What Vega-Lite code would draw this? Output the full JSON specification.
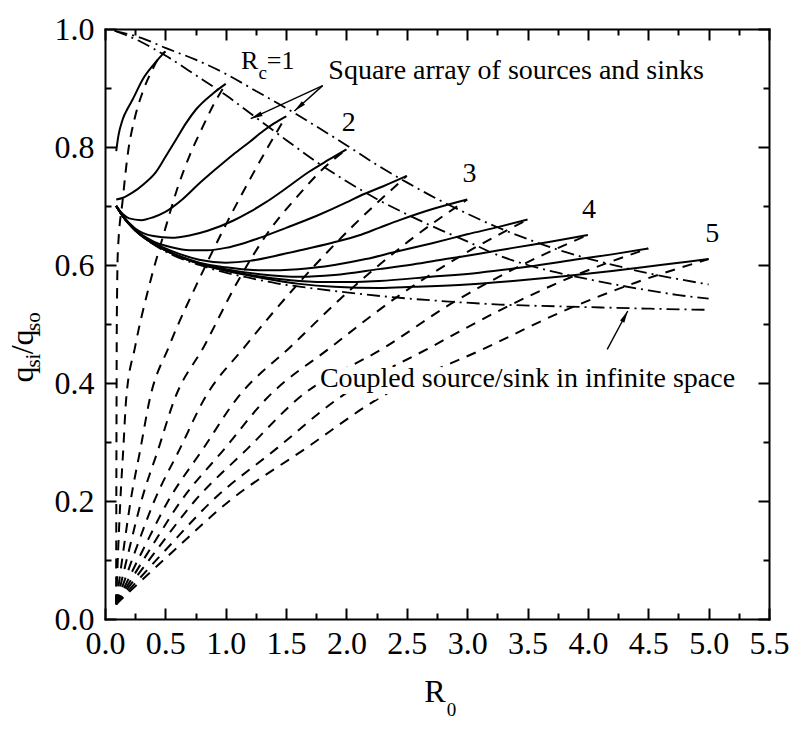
{
  "$schema": "https://vega.github.io/schema/vega-lite/v6.json",
  "width": 664,
  "height": 590,
  "autosize": {"type": "none"},
  "padding": {"left": 105, "top": 29, "right": 26, "bottom": 112},
  "background": "white",
  "config": {
    "font": "Liberation Serif",
    "view": {"stroke": null},
    "axis": {
      "grid": false,
      "domainColor": "black",
      "domainWidth": 2,
      "domainCap": "square",
      "tickColor": "black",
      "tickWidth": 2,
      "labelFont": "Liberation Serif",
      "labelFontSize": 32,
      "labelColor": "black"
    }
  },
  "resolve": {"axis": {"x": "independent", "y": "independent"}},
  "datasets": {
    "curves": [
      {"curve": "s0.5", "kind": "solid", "R0": 0.093, "q": 0.793},
      {"curve": "s0.5", "kind": "solid", "R0": 0.11, "q": 0.818},
      {"curve": "s0.5", "kind": "solid", "R0": 0.147, "q": 0.847},
      {"curve": "s0.5", "kind": "solid", "R0": 0.19, "q": 0.866},
      {"curve": "s0.5", "kind": "solid", "R0": 0.23, "q": 0.881},
      {"curve": "s0.5", "kind": "solid", "R0": 0.313, "q": 0.915},
      {"curve": "s0.5", "kind": "solid", "R0": 0.396, "q": 0.938},
      {"curve": "s0.5", "kind": "solid", "R0": 0.45, "q": 0.951},
      {"curve": "s0.5", "kind": "solid", "R0": 0.5, "q": 0.962},

      {"curve": "s1", "kind": "solid", "R0": 0.093, "q": 0.711},
      {"curve": "s1", "kind": "solid", "R0": 0.15, "q": 0.714},
      {"curve": "s1", "kind": "solid", "R0": 0.23, "q": 0.723},
      {"curve": "s1", "kind": "solid", "R0": 0.32, "q": 0.737},
      {"curve": "s1", "kind": "solid", "R0": 0.42, "q": 0.757},
      {"curve": "s1", "kind": "solid", "R0": 0.5, "q": 0.783},
      {"curve": "s1", "kind": "solid", "R0": 0.59, "q": 0.813},
      {"curve": "s1", "kind": "solid", "R0": 0.67, "q": 0.84},
      {"curve": "s1", "kind": "solid", "R0": 0.755, "q": 0.864},
      {"curve": "s1", "kind": "solid", "R0": 0.89, "q": 0.89},
      {"curve": "s1", "kind": "solid", "R0": 1.0, "q": 0.907},

      {"curve": "s1.5", "kind": "solid", "R0": 0.093, "q": 0.7},
      {"curve": "s1.5", "kind": "solid", "R0": 0.15, "q": 0.686},
      {"curve": "s1.5", "kind": "solid", "R0": 0.2, "q": 0.679},
      {"curve": "s1.5", "kind": "solid", "R0": 0.3, "q": 0.676},
      {"curve": "s1.5", "kind": "solid", "R0": 0.4, "q": 0.681},
      {"curve": "s1.5", "kind": "solid", "R0": 0.5, "q": 0.69},
      {"curve": "s1.5", "kind": "solid", "R0": 0.64, "q": 0.711},
      {"curve": "s1.5", "kind": "solid", "R0": 0.78, "q": 0.738},
      {"curve": "s1.5", "kind": "solid", "R0": 0.92, "q": 0.763},
      {"curve": "s1.5", "kind": "solid", "R0": 1.06, "q": 0.787},
      {"curve": "s1.5", "kind": "solid", "R0": 1.2, "q": 0.809},
      {"curve": "s1.5", "kind": "solid", "R0": 1.31, "q": 0.827},
      {"curve": "s1.5", "kind": "solid", "R0": 1.4, "q": 0.84},
      {"curve": "s1.5", "kind": "solid", "R0": 1.5, "q": 0.852},

      {"curve": "s2", "kind": "solid", "R0": 0.093, "q": 0.7},
      {"curve": "s2", "kind": "solid", "R0": 0.15, "q": 0.683},
      {"curve": "s2", "kind": "solid", "R0": 0.25, "q": 0.662},
      {"curve": "s2", "kind": "solid", "R0": 0.4, "q": 0.649},
      {"curve": "s2", "kind": "solid", "R0": 0.55, "q": 0.646},
      {"curve": "s2", "kind": "solid", "R0": 0.7, "q": 0.65},
      {"curve": "s2", "kind": "solid", "R0": 0.85, "q": 0.658},
      {"curve": "s2", "kind": "solid", "R0": 1.06, "q": 0.675},
      {"curve": "s2", "kind": "solid", "R0": 1.2, "q": 0.69},
      {"curve": "s2", "kind": "solid", "R0": 1.33, "q": 0.706},
      {"curve": "s2", "kind": "solid", "R0": 1.5, "q": 0.73},
      {"curve": "s2", "kind": "solid", "R0": 1.69, "q": 0.758},
      {"curve": "s2", "kind": "solid", "R0": 1.85, "q": 0.778},
      {"curve": "s2", "kind": "solid", "R0": 2.0, "q": 0.796},

      {"curve": "s2.5", "kind": "solid", "R0": 0.093, "q": 0.7},
      {"curve": "s2.5", "kind": "solid", "R0": 0.15, "q": 0.682},
      {"curve": "s2.5", "kind": "solid", "R0": 0.25, "q": 0.66},
      {"curve": "s2.5", "kind": "solid", "R0": 0.4, "q": 0.64},
      {"curve": "s2.5", "kind": "solid", "R0": 0.55, "q": 0.63},
      {"curve": "s2.5", "kind": "solid", "R0": 0.7, "q": 0.625},
      {"curve": "s2.5", "kind": "solid", "R0": 0.85, "q": 0.625},
      {"curve": "s2.5", "kind": "solid", "R0": 1.0, "q": 0.629},
      {"curve": "s2.5", "kind": "solid", "R0": 1.15, "q": 0.637},
      {"curve": "s2.5", "kind": "solid", "R0": 1.28, "q": 0.646},
      {"curve": "s2.5", "kind": "solid", "R0": 1.5, "q": 0.663},
      {"curve": "s2.5", "kind": "solid", "R0": 1.75, "q": 0.683},
      {"curve": "s2.5", "kind": "solid", "R0": 2.0, "q": 0.706},
      {"curve": "s2.5", "kind": "solid", "R0": 2.11, "q": 0.717},
      {"curve": "s2.5", "kind": "solid", "R0": 2.3, "q": 0.733},
      {"curve": "s2.5", "kind": "solid", "R0": 2.5, "q": 0.751},

      {"curve": "s3", "kind": "solid", "R0": 0.093, "q": 0.7},
      {"curve": "s3", "kind": "solid", "R0": 0.15, "q": 0.682},
      {"curve": "s3", "kind": "solid", "R0": 0.25, "q": 0.659},
      {"curve": "s3", "kind": "solid", "R0": 0.4, "q": 0.638},
      {"curve": "s3", "kind": "solid", "R0": 0.55, "q": 0.624},
      {"curve": "s3", "kind": "solid", "R0": 0.78, "q": 0.609},
      {"curve": "s3", "kind": "solid", "R0": 1.0, "q": 0.604},
      {"curve": "s3", "kind": "solid", "R0": 1.2, "q": 0.607},
      {"curve": "s3", "kind": "solid", "R0": 1.4, "q": 0.615},
      {"curve": "s3", "kind": "solid", "R0": 1.6, "q": 0.624},
      {"curve": "s3", "kind": "solid", "R0": 1.89, "q": 0.638},
      {"curve": "s3", "kind": "solid", "R0": 2.1, "q": 0.65},
      {"curve": "s3", "kind": "solid", "R0": 2.27, "q": 0.663},
      {"curve": "s3", "kind": "solid", "R0": 2.44, "q": 0.676},
      {"curve": "s3", "kind": "solid", "R0": 2.7, "q": 0.694},
      {"curve": "s3", "kind": "solid", "R0": 3.0, "q": 0.711},

      {"curve": "s3.5", "kind": "solid", "R0": 0.093, "q": 0.7},
      {"curve": "s3.5", "kind": "solid", "R0": 0.15, "q": 0.682},
      {"curve": "s3.5", "kind": "solid", "R0": 0.25, "q": 0.659},
      {"curve": "s3.5", "kind": "solid", "R0": 0.4, "q": 0.637},
      {"curve": "s3.5", "kind": "solid", "R0": 0.55, "q": 0.621},
      {"curve": "s3.5", "kind": "solid", "R0": 0.78, "q": 0.604},
      {"curve": "s3.5", "kind": "solid", "R0": 1.0, "q": 0.596},
      {"curve": "s3.5", "kind": "solid", "R0": 1.3, "q": 0.591},
      {"curve": "s3.5", "kind": "solid", "R0": 1.6, "q": 0.593},
      {"curve": "s3.5", "kind": "solid", "R0": 1.9, "q": 0.6},
      {"curve": "s3.5", "kind": "solid", "R0": 2.16, "q": 0.61},
      {"curve": "s3.5", "kind": "solid", "R0": 2.4, "q": 0.622},
      {"curve": "s3.5", "kind": "solid", "R0": 2.71, "q": 0.637},
      {"curve": "s3.5", "kind": "solid", "R0": 3.0, "q": 0.652},
      {"curve": "s3.5", "kind": "solid", "R0": 3.27, "q": 0.665},
      {"curve": "s3.5", "kind": "solid", "R0": 3.5, "q": 0.677},

      {"curve": "s4", "kind": "solid", "R0": 0.093, "q": 0.7},
      {"curve": "s4", "kind": "solid", "R0": 0.15, "q": 0.682},
      {"curve": "s4", "kind": "solid", "R0": 0.25, "q": 0.659},
      {"curve": "s4", "kind": "solid", "R0": 0.4, "q": 0.636},
      {"curve": "s4", "kind": "solid", "R0": 0.55, "q": 0.62},
      {"curve": "s4", "kind": "solid", "R0": 0.78, "q": 0.603},
      {"curve": "s4", "kind": "solid", "R0": 1.0, "q": 0.593},
      {"curve": "s4", "kind": "solid", "R0": 1.3, "q": 0.584},
      {"curve": "s4", "kind": "solid", "R0": 1.61, "q": 0.58},
      {"curve": "s4", "kind": "solid", "R0": 1.9, "q": 0.583},
      {"curve": "s4", "kind": "solid", "R0": 2.27, "q": 0.593},
      {"curve": "s4", "kind": "solid", "R0": 2.55, "q": 0.601},
      {"curve": "s4", "kind": "solid", "R0": 2.82, "q": 0.61},
      {"curve": "s4", "kind": "solid", "R0": 3.1, "q": 0.619},
      {"curve": "s4", "kind": "solid", "R0": 3.38, "q": 0.629},
      {"curve": "s4", "kind": "solid", "R0": 3.7, "q": 0.64},
      {"curve": "s4", "kind": "solid", "R0": 4.0, "q": 0.651},

      {"curve": "s4.5", "kind": "solid", "R0": 0.093, "q": 0.7},
      {"curve": "s4.5", "kind": "solid", "R0": 0.15, "q": 0.682},
      {"curve": "s4.5", "kind": "solid", "R0": 0.25, "q": 0.659},
      {"curve": "s4.5", "kind": "solid", "R0": 0.4, "q": 0.636},
      {"curve": "s4.5", "kind": "solid", "R0": 0.55, "q": 0.62},
      {"curve": "s4.5", "kind": "solid", "R0": 0.78, "q": 0.602},
      {"curve": "s4.5", "kind": "solid", "R0": 1.0, "q": 0.591},
      {"curve": "s4.5", "kind": "solid", "R0": 1.3, "q": 0.58},
      {"curve": "s4.5", "kind": "solid", "R0": 1.61, "q": 0.573},
      {"curve": "s4.5", "kind": "solid", "R0": 1.9, "q": 0.571},
      {"curve": "s4.5", "kind": "solid", "R0": 2.27, "q": 0.573},
      {"curve": "s4.5", "kind": "solid", "R0": 2.7, "q": 0.58},
      {"curve": "s4.5", "kind": "solid", "R0": 3.1, "q": 0.587},
      {"curve": "s4.5", "kind": "solid", "R0": 3.5, "q": 0.597},
      {"curve": "s4.5", "kind": "solid", "R0": 3.93, "q": 0.61},
      {"curve": "s4.5", "kind": "solid", "R0": 4.2, "q": 0.618},
      {"curve": "s4.5", "kind": "solid", "R0": 4.5, "q": 0.628},

      {"curve": "s5", "kind": "solid", "R0": 0.093, "q": 0.7},
      {"curve": "s5", "kind": "solid", "R0": 0.15, "q": 0.682},
      {"curve": "s5", "kind": "solid", "R0": 0.25, "q": 0.659},
      {"curve": "s5", "kind": "solid", "R0": 0.4, "q": 0.636},
      {"curve": "s5", "kind": "solid", "R0": 0.55, "q": 0.62},
      {"curve": "s5", "kind": "solid", "R0": 0.78, "q": 0.602},
      {"curve": "s5", "kind": "solid", "R0": 1.0, "q": 0.59},
      {"curve": "s5", "kind": "solid", "R0": 1.3, "q": 0.578},
      {"curve": "s5", "kind": "solid", "R0": 1.61, "q": 0.568},
      {"curve": "s5", "kind": "solid", "R0": 1.9, "q": 0.563},
      {"curve": "s5", "kind": "solid", "R0": 2.27, "q": 0.561},
      {"curve": "s5", "kind": "solid", "R0": 2.55, "q": 0.563},
      {"curve": "s5", "kind": "solid", "R0": 3.0, "q": 0.567},
      {"curve": "s5", "kind": "solid", "R0": 3.38, "q": 0.573},
      {"curve": "s5", "kind": "solid", "R0": 3.8, "q": 0.581},
      {"curve": "s5", "kind": "solid", "R0": 4.2, "q": 0.59},
      {"curve": "s5", "kind": "solid", "R0": 4.6, "q": 0.6},
      {"curve": "s5", "kind": "solid", "R0": 5.0, "q": 0.61},

      {"curve": "d0.5", "kind": "dashed", "R0": 0.092, "q": 0.025},
      {"curve": "d0.5", "kind": "dashed", "R0": 0.093, "q": 0.12},
      {"curve": "d0.5", "kind": "dashed", "R0": 0.094, "q": 0.22},
      {"curve": "d0.5", "kind": "dashed", "R0": 0.0955, "q": 0.35},
      {"curve": "d0.5", "kind": "dashed", "R0": 0.097, "q": 0.47},
      {"curve": "d0.5", "kind": "dashed", "R0": 0.1, "q": 0.55},
      {"curve": "d0.5", "kind": "dashed", "R0": 0.106, "q": 0.62},
      {"curve": "d0.5", "kind": "dashed", "R0": 0.147, "q": 0.711},
      {"curve": "d0.5", "kind": "dashed", "R0": 0.19, "q": 0.79},
      {"curve": "d0.5", "kind": "dashed", "R0": 0.244, "q": 0.847},
      {"curve": "d0.5", "kind": "dashed", "R0": 0.31, "q": 0.892},
      {"curve": "d0.5", "kind": "dashed", "R0": 0.38, "q": 0.926},
      {"curve": "d0.5", "kind": "dashed", "R0": 0.45, "q": 0.952},
      {"curve": "d0.5", "kind": "dashed", "R0": 0.5, "q": 0.962},

      {"curve": "d1", "kind": "dashed", "R0": 0.092, "q": 0.025},
      {"curve": "d1", "kind": "dashed", "R0": 0.109, "q": 0.117},
      {"curve": "d1", "kind": "dashed", "R0": 0.127, "q": 0.2},
      {"curve": "d1", "kind": "dashed", "R0": 0.152, "q": 0.29},
      {"curve": "d1", "kind": "dashed", "R0": 0.175, "q": 0.372},
      {"curve": "d1", "kind": "dashed", "R0": 0.25, "q": 0.462},
      {"curve": "d1", "kind": "dashed", "R0": 0.36, "q": 0.56},
      {"curve": "d1", "kind": "dashed", "R0": 0.49, "q": 0.655},
      {"curve": "d1", "kind": "dashed", "R0": 0.6, "q": 0.73},
      {"curve": "d1", "kind": "dashed", "R0": 0.7, "q": 0.785},
      {"curve": "d1", "kind": "dashed", "R0": 0.8, "q": 0.83},
      {"curve": "d1", "kind": "dashed", "R0": 0.9, "q": 0.872},
      {"curve": "d1", "kind": "dashed", "R0": 1.0, "q": 0.907},

      {"curve": "d1.5", "kind": "dashed", "R0": 0.092, "q": 0.025},
      {"curve": "d1.5", "kind": "dashed", "R0": 0.153, "q": 0.117},
      {"curve": "d1.5", "kind": "dashed", "R0": 0.212, "q": 0.2},
      {"curve": "d1.5", "kind": "dashed", "R0": 0.295, "q": 0.29},
      {"curve": "d1.5", "kind": "dashed", "R0": 0.37, "q": 0.372},
      {"curve": "d1.5", "kind": "dashed", "R0": 0.53, "q": 0.462},
      {"curve": "d1.5", "kind": "dashed", "R0": 0.78, "q": 0.576},
      {"curve": "d1.5", "kind": "dashed", "R0": 1.0, "q": 0.668},
      {"curve": "d1.5", "kind": "dashed", "R0": 1.2, "q": 0.745},
      {"curve": "d1.5", "kind": "dashed", "R0": 1.35, "q": 0.8},
      {"curve": "d1.5", "kind": "dashed", "R0": 1.5, "q": 0.852},

      {"curve": "d2", "kind": "dashed", "R0": 0.092, "q": 0.025},
      {"curve": "d2", "kind": "dashed", "R0": 0.199, "q": 0.117},
      {"curve": "d2", "kind": "dashed", "R0": 0.301, "q": 0.2},
      {"curve": "d2", "kind": "dashed", "R0": 0.445, "q": 0.29},
      {"curve": "d2", "kind": "dashed", "R0": 0.575, "q": 0.372},
      {"curve": "d2", "kind": "dashed", "R0": 0.82, "q": 0.462},
      {"curve": "d2", "kind": "dashed", "R0": 1.11, "q": 0.576},
      {"curve": "d2", "kind": "dashed", "R0": 1.35, "q": 0.655},
      {"curve": "d2", "kind": "dashed", "R0": 1.61, "q": 0.72},
      {"curve": "d2", "kind": "dashed", "R0": 1.8, "q": 0.762},
      {"curve": "d2", "kind": "dashed", "R0": 2.0, "q": 0.796},

      {"curve": "d2.5", "kind": "dashed", "R0": 0.092, "q": 0.025},
      {"curve": "d2.5", "kind": "dashed", "R0": 0.254, "q": 0.117},
      {"curve": "d2.5", "kind": "dashed", "R0": 0.408, "q": 0.2},
      {"curve": "d2.5", "kind": "dashed", "R0": 0.624, "q": 0.29},
      {"curve": "d2.5", "kind": "dashed", "R0": 0.82, "q": 0.372},
      {"curve": "d2.5", "kind": "dashed", "R0": 1.16, "q": 0.462},
      {"curve": "d2.5", "kind": "dashed", "R0": 1.607, "q": 0.57},
      {"curve": "d2.5", "kind": "dashed", "R0": 2.053, "q": 0.666},
      {"curve": "d2.5", "kind": "dashed", "R0": 2.5, "q": 0.751},

      {"curve": "d3", "kind": "dashed", "R0": 0.092, "q": 0.025},
      {"curve": "d3", "kind": "dashed", "R0": 0.314, "q": 0.117},
      {"curve": "d3", "kind": "dashed", "R0": 0.523, "q": 0.2},
      {"curve": "d3", "kind": "dashed", "R0": 0.818, "q": 0.29},
      {"curve": "d3", "kind": "dashed", "R0": 1.086, "q": 0.372},
      {"curve": "d3", "kind": "dashed", "R0": 1.54, "q": 0.462},
      {"curve": "d3", "kind": "dashed", "R0": 2.027, "q": 0.557},
      {"curve": "d3", "kind": "dashed", "R0": 2.513, "q": 0.64},
      {"curve": "d3", "kind": "dashed", "R0": 3.0, "q": 0.711},

      {"curve": "d3.5", "kind": "dashed", "R0": 0.092, "q": 0.025},
      {"curve": "d3.5", "kind": "dashed", "R0": 0.369, "q": 0.117},
      {"curve": "d3.5", "kind": "dashed", "R0": 0.629, "q": 0.2},
      {"curve": "d3.5", "kind": "dashed", "R0": 0.996, "q": 0.29},
      {"curve": "d3.5", "kind": "dashed", "R0": 1.33, "q": 0.372},
      {"curve": "d3.5", "kind": "dashed", "R0": 1.88, "q": 0.462},
      {"curve": "d3.5", "kind": "dashed", "R0": 2.42, "q": 0.546},
      {"curve": "d3.5", "kind": "dashed", "R0": 2.96, "q": 0.617},
      {"curve": "d3.5", "kind": "dashed", "R0": 3.5, "q": 0.677},

      {"curve": "d4", "kind": "dashed", "R0": 0.092, "q": 0.025},
      {"curve": "d4", "kind": "dashed", "R0": 0.428, "q": 0.117},
      {"curve": "d4", "kind": "dashed", "R0": 0.743, "q": 0.2},
      {"curve": "d4", "kind": "dashed", "R0": 1.187, "q": 0.29},
      {"curve": "d4", "kind": "dashed", "R0": 1.59, "q": 0.372},
      {"curve": "d4", "kind": "dashed", "R0": 2.33, "q": 0.462},
      {"curve": "d4", "kind": "dashed", "R0": 2.887, "q": 0.537},
      {"curve": "d4", "kind": "dashed", "R0": 3.443, "q": 0.599},
      {"curve": "d4", "kind": "dashed", "R0": 4.0, "q": 0.651},

      {"curve": "d4.5", "kind": "dashed", "R0": 0.092, "q": 0.025},
      {"curve": "d4.5", "kind": "dashed", "R0": 0.502, "q": 0.117},
      {"curve": "d4.5", "kind": "dashed", "R0": 0.886, "q": 0.2},
      {"curve": "d4.5", "kind": "dashed", "R0": 1.428, "q": 0.29},
      {"curve": "d4.5", "kind": "dashed", "R0": 1.92, "q": 0.372},
      {"curve": "d4.5", "kind": "dashed", "R0": 2.71, "q": 0.462},
      {"curve": "d4.5", "kind": "dashed", "R0": 3.307, "q": 0.527},
      {"curve": "d4.5", "kind": "dashed", "R0": 3.903, "q": 0.583},
      {"curve": "d4.5", "kind": "dashed", "R0": 4.5, "q": 0.628},

      {"curve": "d5", "kind": "dashed", "R0": 0.092, "q": 0.025},
      {"curve": "d5", "kind": "dashed", "R0": 0.576, "q": 0.117},
      {"curve": "d5", "kind": "dashed", "R0": 1.03, "q": 0.2},
      {"curve": "d5", "kind": "dashed", "R0": 1.669, "q": 0.29},
      {"curve": "d5", "kind": "dashed", "R0": 2.25, "q": 0.372},
      {"curve": "d5", "kind": "dashed", "R0": 3.18, "q": 0.462},
      {"curve": "d5", "kind": "dashed", "R0": 3.787, "q": 0.521},
      {"curve": "d5", "kind": "dashed", "R0": 4.393, "q": 0.57},
      {"curve": "d5", "kind": "dashed", "R0": 5.0, "q": 0.61},

      {"curve": "arrayA", "kind": "dashdot", "R0": 0.08, "q": 0.997},
      {"curve": "arrayA", "kind": "dashdot", "R0": 0.3, "q": 0.985},
      {"curve": "arrayA", "kind": "dashdot", "R0": 0.5, "q": 0.968},
      {"curve": "arrayA", "kind": "dashdot", "R0": 0.75, "q": 0.948},
      {"curve": "arrayA", "kind": "dashdot", "R0": 1.0, "q": 0.924},
      {"curve": "arrayA", "kind": "dashdot", "R0": 1.25, "q": 0.895},
      {"curve": "arrayA", "kind": "dashdot", "R0": 1.5, "q": 0.866},
      {"curve": "arrayA", "kind": "dashdot", "R0": 1.75, "q": 0.835},
      {"curve": "arrayA", "kind": "dashdot", "R0": 2.0, "q": 0.803},
      {"curve": "arrayA", "kind": "dashdot", "R0": 2.25, "q": 0.77},
      {"curve": "arrayA", "kind": "dashdot", "R0": 2.5, "q": 0.74},
      {"curve": "arrayA", "kind": "dashdot", "R0": 2.75, "q": 0.712},
      {"curve": "arrayA", "kind": "dashdot", "R0": 3.0, "q": 0.687},
      {"curve": "arrayA", "kind": "dashdot", "R0": 3.25, "q": 0.664},
      {"curve": "arrayA", "kind": "dashdot", "R0": 3.5, "q": 0.644},
      {"curve": "arrayA", "kind": "dashdot", "R0": 3.75, "q": 0.626},
      {"curve": "arrayA", "kind": "dashdot", "R0": 4.0, "q": 0.611},
      {"curve": "arrayA", "kind": "dashdot", "R0": 4.25, "q": 0.598},
      {"curve": "arrayA", "kind": "dashdot", "R0": 4.5, "q": 0.586},
      {"curve": "arrayA", "kind": "dashdot", "R0": 4.75, "q": 0.576},
      {"curve": "arrayA", "kind": "dashdot", "R0": 5.0, "q": 0.567},

      {"curve": "arrayB", "kind": "dashdot", "R0": 0.08, "q": 0.997},
      {"curve": "arrayB", "kind": "dashdot", "R0": 0.3, "q": 0.978},
      {"curve": "arrayB", "kind": "dashdot", "R0": 0.5, "q": 0.955},
      {"curve": "arrayB", "kind": "dashdot", "R0": 0.75, "q": 0.922},
      {"curve": "arrayB", "kind": "dashdot", "R0": 1.0, "q": 0.888},
      {"curve": "arrayB", "kind": "dashdot", "R0": 1.25, "q": 0.85},
      {"curve": "arrayB", "kind": "dashdot", "R0": 1.5, "q": 0.812},
      {"curve": "arrayB", "kind": "dashdot", "R0": 1.75, "q": 0.775},
      {"curve": "arrayB", "kind": "dashdot", "R0": 2.0, "q": 0.742},
      {"curve": "arrayB", "kind": "dashdot", "R0": 2.25, "q": 0.712},
      {"curve": "arrayB", "kind": "dashdot", "R0": 2.5, "q": 0.686},
      {"curve": "arrayB", "kind": "dashdot", "R0": 2.75, "q": 0.662},
      {"curve": "arrayB", "kind": "dashdot", "R0": 3.0, "q": 0.64},
      {"curve": "arrayB", "kind": "dashdot", "R0": 3.25, "q": 0.617},
      {"curve": "arrayB", "kind": "dashdot", "R0": 3.5, "q": 0.6},
      {"curve": "arrayB", "kind": "dashdot", "R0": 3.75, "q": 0.587},
      {"curve": "arrayB", "kind": "dashdot", "R0": 4.0, "q": 0.576},
      {"curve": "arrayB", "kind": "dashdot", "R0": 4.25, "q": 0.566},
      {"curve": "arrayB", "kind": "dashdot", "R0": 4.5, "q": 0.557},
      {"curve": "arrayB", "kind": "dashdot", "R0": 4.75, "q": 0.549},
      {"curve": "arrayB", "kind": "dashdot", "R0": 5.0, "q": 0.543},

      {"curve": "infinite", "kind": "dashdot", "R0": 0.093, "q": 0.7},
      {"curve": "infinite", "kind": "dashdot", "R0": 0.15, "q": 0.682},
      {"curve": "infinite", "kind": "dashdot", "R0": 0.25, "q": 0.659},
      {"curve": "infinite", "kind": "dashdot", "R0": 0.4, "q": 0.635},
      {"curve": "infinite", "kind": "dashdot", "R0": 0.55, "q": 0.618},
      {"curve": "infinite", "kind": "dashdot", "R0": 0.78, "q": 0.6},
      {"curve": "infinite", "kind": "dashdot", "R0": 1.0, "q": 0.587},
      {"curve": "infinite", "kind": "dashdot", "R0": 1.2, "q": 0.578},
      {"curve": "infinite", "kind": "dashdot", "R0": 1.42, "q": 0.569},
      {"curve": "infinite", "kind": "dashdot", "R0": 1.7, "q": 0.561},
      {"curve": "infinite", "kind": "dashdot", "R0": 1.94, "q": 0.555},
      {"curve": "infinite", "kind": "dashdot", "R0": 2.3, "q": 0.547},
      {"curve": "infinite", "kind": "dashdot", "R0": 2.85, "q": 0.538},
      {"curve": "infinite", "kind": "dashdot", "R0": 3.27, "q": 0.533},
      {"curve": "infinite", "kind": "dashdot", "R0": 3.93, "q": 0.529},
      {"curve": "infinite", "kind": "dashdot", "R0": 4.5, "q": 0.526},
      {"curve": "infinite", "kind": "dashdot", "R0": 5.0, "q": 0.524}
    ],
    "arrows": [
      {"arrow": "a1", "R0": 1.803, "q": 0.904, "R0_tip": 1.207, "q_tip": 0.848},
      {"arrow": "a2", "R0": 1.803, "q": 0.904, "R0_tip": 1.569, "q_tip": 0.861},
      {"arrow": "a3", "R0": 4.16, "q": 0.457, "R0_tip": 4.33, "q_tip": 0.522}
    ],
    "labels": [
      {"text": "Square array of sources and sinks", "R0": 1.85, "q": 0.915, "role": "note"},
      {"text": "Coupled source/sink in infinite space", "R0": 1.78, "q": 0.394, "role": "boxed"},
      {"text": "R", "R0": 1.127, "q": 0.933, "role": "rc"},
      {"text": "c", "R0": 1.272, "q": 0.915, "role": "sub"},
      {"text": "=1", "R0": 1.34, "q": 0.933, "role": "rc"},
      {"text": "2", "R0": 2.02, "q": 0.827, "role": "num"},
      {"text": "3", "R0": 3.02, "q": 0.74, "role": "num"},
      {"text": "4", "R0": 4.01, "q": 0.68, "role": "num"},
      {"text": "5", "R0": 5.03, "q": 0.639, "role": "num"},
      {"text": "R", "R0": 2.645, "q": -0.141, "role": "xtitle"},
      {"text": "0", "R0": 2.83, "q": -0.165, "role": "xtitlesub"},
      {"text": "q", "R0": -0.6, "q": 0.4007, "role": "ytitle"},
      {"text": "si", "R0": -0.542, "q": 0.4261, "role": "ytitlesub"},
      {"text": "/q", "R0": -0.6, "q": 0.4487, "role": "ytitle"},
      {"text": "so", "R0": -0.542, "q": 0.4883, "role": "ytitlesub"}
    ]
  },
  "layer": [
    {
      "data": {"name": "curves"},
      "transform": [{"filter": "datum.kind === 'solid'"}],
      "mark": {"type": "line", "color": "black", "strokeWidth": 2, "interpolate": "monotone"},
      "encoding": {
        "x": {"field": "R0", "type": "quantitative", "scale": {"domain": [0, 5.5], "nice": false, "zero": false},
          "axis": {"orient": "bottom", "title": null, "values": [0, 0.5, 1, 1.5, 2, 2.5, 3, 3.5, 4, 4.5, 5, 5.5], "format": ".1f", "tickSize": -11, "labelPadding": 20, "labelFlush": false, "labelOverlap": false, "labelFont": "Liberation Serif", "labelFontSize": 32, "labelColor": "black"}},
        "y": {"field": "q", "type": "quantitative", "scale": {"domain": [0, 1], "nice": false, "zero": false},
          "axis": {"orient": "left", "title": null, "values": [0, 0.2, 0.4, 0.6, 0.8, 1], "format": ".1f", "tickSize": -11, "labelPadding": 22, "labelFlush": false, "labelFont": "Liberation Serif", "labelFontSize": 32, "labelColor": "black"}},
        "detail": {"field": "curve"}
      }
    },
    {
      "data": {"name": "curves"},
      "transform": [{"filter": "datum.kind === 'dashed'"}],
      "mark": {"type": "line", "color": "black", "strokeWidth": 2, "strokeDash": [10, 8], "interpolate": "monotone"},
      "encoding": {
        "x": {"field": "R0", "type": "quantitative", "scale": {"domain": [0, 5.5], "nice": false, "zero": false},
          "axis": {"orient": "bottom", "title": null, "values": [0.25, 0.75, 1.25, 1.75, 2.25, 2.75, 3.25, 3.75, 4.25, 4.75, 5.25], "tickSize": -6, "labels": false, "domain": false}},
        "y": {"field": "q", "type": "quantitative", "scale": {"domain": [0, 1], "nice": false, "zero": false},
          "axis": {"orient": "left", "title": null, "values": [0.1, 0.3, 0.5, 0.7, 0.9], "tickSize": -6, "labels": false, "domain": false}},
        "detail": {"field": "curve"}
      }
    },
    {
      "data": {"name": "curves"},
      "transform": [{"filter": "datum.kind === 'dashdot'"}],
      "mark": {"type": "line", "color": "black", "strokeWidth": 1.8, "strokeDash": [13, 5, 2, 5], "interpolate": "monotone"},
      "encoding": {
        "x": {"field": "R0", "type": "quantitative", "scale": {"domain": [0, 5.5], "nice": false, "zero": false},
          "axis": {"orient": "top", "title": null, "values": [0, 0.5, 1, 1.5, 2, 2.5, 3, 3.5, 4, 4.5, 5, 5.5], "tickSize": -11, "labels": false}},
        "y": {"field": "q", "type": "quantitative", "scale": {"domain": [0, 1], "nice": false, "zero": false},
          "axis": {"orient": "right", "title": null, "values": [0, 0.2, 0.4, 0.6, 0.8, 1], "tickSize": -11, "labels": false}},
        "detail": {"field": "curve"}
      }
    },
    {
      "data": {"name": "arrows"},
      "mark": {"type": "rule", "color": "black", "strokeWidth": 1.4},
      "encoding": {
        "x": {"field": "R0", "type": "quantitative", "scale": {"domain": [0, 5.5], "nice": false, "zero": false},
          "axis": {"orient": "top", "title": null, "values": [0.25, 0.75, 1.25, 1.75, 2.25, 2.75, 3.25, 3.75, 4.25, 4.75, 5.25], "tickSize": -6, "labels": false, "domain": false}},
        "y": {"field": "q", "type": "quantitative", "scale": {"domain": [0, 1], "nice": false, "zero": false},
          "axis": {"orient": "right", "title": null, "values": [0.1, 0.3, 0.5, 0.7, 0.9], "tickSize": -6, "labels": false, "domain": false}},
        "x2": {"field": "R0_tip"},
        "y2": {"field": "q_tip"}
      }
    },
    {
      "data": {"name": "arrows"},
      "transform": [{"filter": "datum.arrow === 'a1'"}],
      "mark": {"type": "point", "shape": "M0,0L-0.6,3L0.6,3Z", "size": 64, "filled": true, "color": "black", "opacity": 1, "angle": 245.5},
      "encoding": {
        "x": {"field": "R0_tip", "type": "quantitative", "scale": {"domain": [0, 5.5], "nice": false, "zero": false}, "axis": null},
        "y": {"field": "q_tip", "type": "quantitative", "scale": {"domain": [0, 1], "nice": false, "zero": false}, "axis": null}
      }
    },
    {
      "data": {"name": "arrows"},
      "transform": [{"filter": "datum.arrow === 'a2'"}],
      "mark": {"type": "point", "shape": "M0,0L-0.6,3L0.6,3Z", "size": 64, "filled": true, "color": "black", "opacity": 1, "angle": 228.6},
      "encoding": {
        "x": {"field": "R0_tip", "type": "quantitative", "scale": {"domain": [0, 5.5], "nice": false, "zero": false}, "axis": null},
        "y": {"field": "q_tip", "type": "quantitative", "scale": {"domain": [0, 1], "nice": false, "zero": false}, "axis": null}
      }
    },
    {
      "data": {"name": "arrows"},
      "transform": [{"filter": "datum.arrow === 'a3'"}],
      "mark": {"type": "point", "shape": "M0,0L-0.6,3L0.6,3Z", "size": 64, "filled": true, "color": "black", "opacity": 1, "angle": 27.6},
      "encoding": {
        "x": {"field": "R0_tip", "type": "quantitative", "scale": {"domain": [0, 5.5], "nice": false, "zero": false}, "axis": null},
        "y": {"field": "q_tip", "type": "quantitative", "scale": {"domain": [0, 1], "nice": false, "zero": false}, "axis": null}
      }
    },
    {
      "data": {"name": "labels"},
      "transform": [{"filter": "datum.role === 'boxed'"}],
      "mark": {"type": "text", "font": "Liberation Serif", "fontSize": 28, "align": "left", "baseline": "alphabetic", "color": "white", "stroke": "white", "strokeWidth": 14, "strokeJoin": "round"},
      "encoding": {
        "x": {"field": "R0", "type": "quantitative", "scale": {"domain": [0, 5.5], "nice": false, "zero": false}, "axis": null},
        "y": {"field": "q", "type": "quantitative", "scale": {"domain": [0, 1], "nice": false, "zero": false}, "axis": null},
        "text": {"field": "text"}
      }
    },
    {
      "data": {"name": "labels"},
      "transform": [{"filter": "datum.role === 'note' || datum.role === 'boxed'"}],
      "mark": {"type": "text", "font": "Liberation Serif", "fontSize": 28, "align": "left", "baseline": "alphabetic", "color": "black"},
      "encoding": {
        "x": {"field": "R0", "type": "quantitative", "scale": {"domain": [0, 5.5], "nice": false, "zero": false}, "axis": null},
        "y": {"field": "q", "type": "quantitative", "scale": {"domain": [0, 1], "nice": false, "zero": false}, "axis": null},
        "text": {"field": "text"}
      }
    },
    {
      "data": {"name": "labels"},
      "transform": [{"filter": "datum.role === 'rc'"}],
      "mark": {"type": "text", "font": "Liberation Serif", "fontSize": 26, "align": "left", "baseline": "alphabetic", "color": "black"},
      "encoding": {
        "x": {"field": "R0", "type": "quantitative", "scale": {"domain": [0, 5.5], "nice": false, "zero": false}, "axis": null},
        "y": {"field": "q", "type": "quantitative", "scale": {"domain": [0, 1], "nice": false, "zero": false}, "axis": null},
        "text": {"field": "text"}
      }
    },
    {
      "data": {"name": "labels"},
      "transform": [{"filter": "datum.role === 'num'"}],
      "mark": {"type": "text", "font": "Liberation Serif", "fontSize": 28, "align": "center", "baseline": "alphabetic", "color": "black"},
      "encoding": {
        "x": {"field": "R0", "type": "quantitative", "scale": {"domain": [0, 5.5], "nice": false, "zero": false}, "axis": null},
        "y": {"field": "q", "type": "quantitative", "scale": {"domain": [0, 1], "nice": false, "zero": false}, "axis": null},
        "text": {"field": "text"}
      }
    },
    {
      "data": {"name": "labels"},
      "transform": [{"filter": "datum.role === 'sub' || datum.role === 'xtitlesub'"}],
      "mark": {"type": "text", "font": "Liberation Serif", "fontSize": 19, "align": "left", "baseline": "alphabetic", "color": "black"},
      "encoding": {
        "x": {"field": "R0", "type": "quantitative", "scale": {"domain": [0, 5.5], "nice": false, "zero": false}, "axis": null},
        "y": {"field": "q", "type": "quantitative", "scale": {"domain": [0, 1], "nice": false, "zero": false}, "axis": null},
        "text": {"field": "text"}
      }
    },
    {
      "data": {"name": "labels"},
      "transform": [{"filter": "datum.role === 'xtitle'"}],
      "mark": {"type": "text", "font": "Liberation Serif", "fontSize": 32, "align": "left", "baseline": "alphabetic", "color": "black"},
      "encoding": {
        "x": {"field": "R0", "type": "quantitative", "scale": {"domain": [0, 5.5], "nice": false, "zero": false}, "axis": null},
        "y": {"field": "q", "type": "quantitative", "scale": {"domain": [0, 1], "nice": false, "zero": false}, "axis": null},
        "text": {"field": "text"}
      }
    },
    {
      "data": {"name": "labels"},
      "transform": [{"filter": "datum.role === 'ytitle'"}],
      "mark": {"type": "text", "font": "Liberation Serif", "fontSize": 32, "align": "left", "baseline": "alphabetic", "angle": 270, "color": "black"},
      "encoding": {
        "x": {"field": "R0", "type": "quantitative", "scale": {"domain": [0, 5.5], "nice": false, "zero": false}, "axis": null},
        "y": {"field": "q", "type": "quantitative", "scale": {"domain": [0, 1], "nice": false, "zero": false}, "axis": null},
        "text": {"field": "text"}
      }
    },
    {
      "data": {"name": "labels"},
      "transform": [{"filter": "datum.role === 'ytitlesub'"}],
      "mark": {"type": "text", "font": "Liberation Serif", "fontSize": 21, "align": "left", "baseline": "alphabetic", "angle": 270, "color": "black"},
      "encoding": {
        "x": {"field": "R0", "type": "quantitative", "scale": {"domain": [0, 5.5], "nice": false, "zero": false}, "axis": null},
        "y": {"field": "q", "type": "quantitative", "scale": {"domain": [0, 1], "nice": false, "zero": false}, "axis": null},
        "text": {"field": "text"}
      }
    }
  ]
}
